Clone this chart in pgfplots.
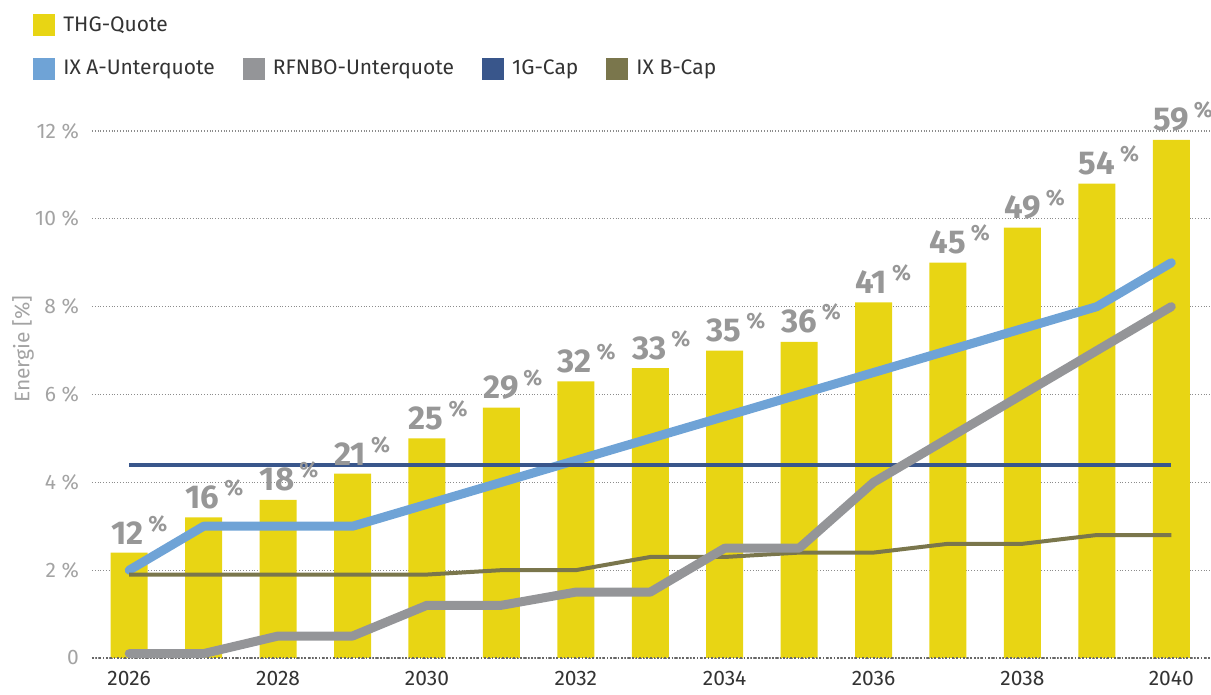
\documentclass[border=0pt]{standalone}
\usepackage{fontspec}
\setmainfont{Fira Sans}
\usepackage{pgfplots}
\usepackage{pgfplotstable}
\pgfplotsset{compat=1.18}
\definecolor{thg}{HTML}{E8D514}
\definecolor{ixa}{HTML}{6FA3D6}
\definecolor{rfnbo}{HTML}{949598}
\definecolor{gcap}{HTML}{39568B}
\definecolor{ixb}{HTML}{7A764C}
\definecolor{lbl}{HTML}{979797}
\definecolor{tick}{HTML}{A3A3A3}
\definecolor{dark}{HTML}{333333}

\pgfplotstableread{
year thg lab ixa rfnbo gcap ixb
2026 2.4 12 2.0 0.1 4.4 1.9
2027 3.2 16 3.0 0.1 4.4 1.9
2028 3.6 18 3.0 0.5 4.4 1.9
2029 4.2 21 3.0 0.5 4.4 1.9
2030 5.0 25 3.5 1.2 4.4 1.9
2031 5.7 29 4.0 1.2 4.4 2.0
2032 6.3 32 4.5 1.5 4.4 2.0
2033 6.6 33 5.0 1.5 4.4 2.3
2034 7.0 35 5.5 2.5 4.4 2.3
2035 7.2 36 6.0 2.5 4.4 2.4
2036 8.1 41 6.5 4.0 4.4 2.4
2037 9.0 45 7.0 5.0 4.4 2.6
2038 9.8 49 7.5 6.0 4.4 2.6
2039 10.8 54 8.0 7.0 4.4 2.8
2040 11.8 59 9.0 8.0 4.4 2.8
}\datatable

\begin{document}
\begin{tikzpicture}
\begin{axis}[
  scale only axis, width=559pt, height=263.5pt,
  xmin=2025.5, xmax=2040.52, ymin=0, ymax=12,
  clip=false,
  axis line style={draw=none},
  major tick length=0pt,
  ytick={0,2,...,12},
  yticklabels={0,2 \%,4 \%,6 \%,8 \%,10 \%,12 \%},
  xtick={2026,2028,...,2040},
  xticklabels={2026,2028,2030,2032,2034,2036,2038,2040},
  ymajorgrids,
  grid style={densely dotted, black!45, line width=0.6pt},
  yticklabel style={font=\fontsize{10.5}{10.5}\selectfont, text=tick, xshift=-3pt},
  xticklabel style={font=\fontsize{10.5}{10.5}\selectfont, text=dark, yshift=-3pt},
  ylabel={Energie [\%]},
  ylabel style={at={(axis description cs:-0.0617,0.586)}, anchor=center, font=\fontsize{10.5}{10.5}\selectfont, text=tick},
  legend columns=4,
  legend cell align=left,
  legend style={at={(-0.0528,1.2258)}, anchor=north west, draw=none, fill=none,
    inner sep=0pt, row sep=9pt, font=\fontsize{10.5}{10.5}\selectfont, text=dark,
    /tikz/every odd column/.append style={column sep=2pt},
    /tikz/every even column/.append style={column sep=12pt}},
  legend image code/.code={\fill[#1, draw=none] (0pt,-5.5pt) rectangle (11pt,5.5pt);},
]
\addlegendimage{fill=thg, draw=none}\addlegendentry{THG-Quote}
\addlegendimage{empty legend}\addlegendentry{}
\addlegendimage{empty legend}\addlegendentry{}
\addlegendimage{empty legend}\addlegendentry{}
\addlegendimage{fill=ixa, draw=none}\addlegendentry{IX A-Unterquote}
\addlegendimage{fill=rfnbo, draw=none}\addlegendentry{RFNBO-Unterquote}
\addlegendimage{fill=gcap, draw=none}\addlegendentry{1G-Cap}
\addlegendimage{fill=ixb, draw=none}\addlegendentry{IX B-Cap}

\addplot[ybar, bar width=18.5pt, fill=thg, draw=none, forget plot,
  point meta=explicit symbolic,
  nodes near coords={{\fontsize{16.5}{16.5}\selectfont\bfseries\pgfplotspointmeta}\hspace{2.5pt}\raisebox{6.5pt}{\fontsize{11}{11}\selectfont\bfseries\%}},
  nodes near coords style={anchor=south west, xshift=-9.25pt, yshift=4pt, inner sep=0pt, text=lbl}]
  table[x=year, y=thg, meta=lab] {\datatable};
\draw[black!60, densely dotted, line width=0.8pt] (rel axis cs:0,0) -- (rel axis cs:1,0);
\addplot[ixa, line width=4.5pt, line cap=round, line join=round, forget plot] table[x=year, y=ixa] {\datatable};
\addplot[gcap, line width=2pt, forget plot] table[x=year, y=gcap] {\datatable};
\addplot[ixb, line width=2pt, forget plot] table[x=year, y=ixb] {\datatable};
\addplot[rfnbo, line width=4.5pt, line cap=round, line join=round, forget plot] table[x=year, y=rfnbo] {\datatable};
\coordinate (O) at (rel axis cs:0,0);
\end{axis}
\pgfresetboundingbox
\path ([shift={(-46pt,-18.5pt)}]O) rectangle ([shift={(559.5pt,329pt)}]O);
\end{tikzpicture}
\end{document}
